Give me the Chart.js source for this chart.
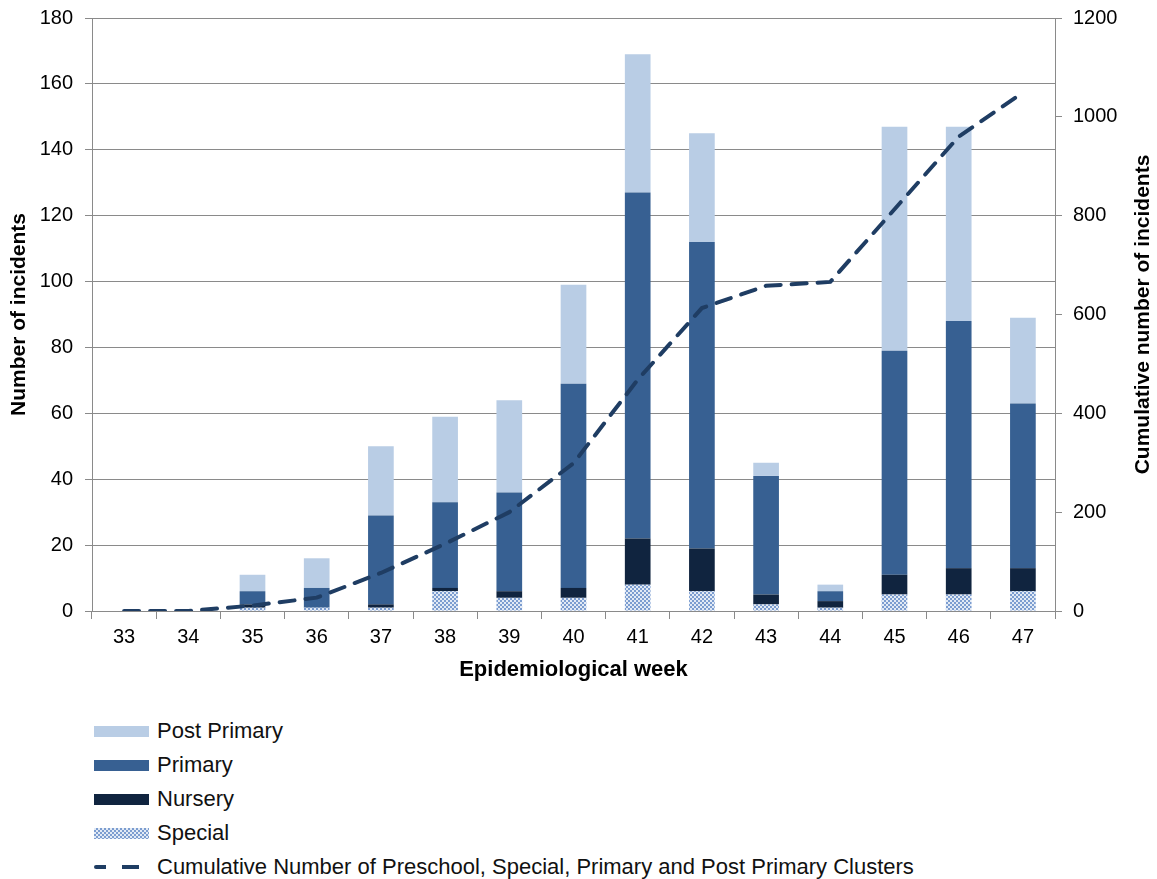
<!DOCTYPE html>
<html lang="en">
<head>
    <meta charset="UTF-8">
    <title>School incidents by epidemiological week</title>
    <script src="https://cdn.jsdelivr.net/npm/chart.js"></script>
    <style>
        body { margin: 0; background: #fff; font-family: "Liberation Sans", Arial, sans-serif; }
        .chart-container { position: relative; width: 1157px; height: 700px; }
        .legend { position: absolute; left: 0; top: 0; width: 1157px; }
        .legend-row { position: absolute; left: 94px; height: 24px; display: flex; align-items: center; font-size: 22px; color: #111; }
        .swatch { width: 55px; height: 11px; margin-right: 8px; }
        .dash { width: 55px; height: 4px; margin-right: 8px;
            background: linear-gradient(to right, #1F3D63 0 12px, transparent 12px 28px, #1F3D63 28px 45px, transparent 45px); border-radius: 2px; }
    </style>
</head>
<body>
    <div class="chart-container">
        <canvas id="chart"></canvas>
    </div>
    <div class="legend" id="legend"></div>

    <script>
        // Data
        const weeks = ['33', '34', '35', '36', '37', '38', '39', '40', '41', '42', '43', '44', '45', '46', '47'];
        const special = [0, 0, 1, 1, 1, 6, 4, 4, 8, 6, 2, 1, 5, 5, 6];
        const nursery = [0, 0, 1, 0, 1, 1, 2, 3, 14, 13, 3, 2, 6, 8, 7];
        const primary = [0, 0, 4, 6, 27, 26, 30, 62, 105, 93, 36, 3, 68, 75, 50];
        const postPrimary = [0, 0, 5, 9, 21, 26, 28, 30, 42, 33, 4, 2, 68, 59, 26];
        const cumulative = [0, 0, 11, 27, 77, 136, 200, 299, 468, 613, 658, 666, 813, 960, 1049];

        const FONT = '"Liberation Sans", Arial, sans-serif';
        const GRID = '#8a8a8a';

        // checker pattern for the "Special" series
        function makePattern() {
            const c = document.createElement('canvas');
            c.width = 4;
            c.height = 4;
            const g = c.getContext('2d');
            g.fillStyle = '#e2eaf5';
            g.fillRect(0, 0, 4, 4);
            g.fillStyle = '#7c9dd0';
            g.fillRect(0, 0, 2, 2);
            g.fillRect(2, 2, 2, 2);
            return g.createPattern(c, 'repeat');
        }
        const specialFill = makePattern();

        // right axis title reads bottom to top, like the left one
        const rightTitle = {
            id: 'rightTitle',
            afterDraw(chart) {
                const ctx = chart.ctx;
                const area = chart.chartArea;
                ctx.save();
                ctx.translate(1143, (area.top + area.bottom) / 2);
                ctx.rotate(-Math.PI / 2);
                ctx.font = 'bold 21px ' + FONT;
                ctx.fillStyle = '#000';
                ctx.textAlign = 'center';
                ctx.textBaseline = 'middle';
                ctx.fillText('Cumulative number of incidents', 0, 0);
                ctx.restore();
            }
        };

        new Chart(document.getElementById('chart'), {
            type: 'bar',
            data: {
                labels: weeks,
                datasets: [
                    { label: 'Special', data: special, backgroundColor: specialFill, yAxisID: 'y', order: 1 },
                    { label: 'Nursery', data: nursery, backgroundColor: '#10243F', yAxisID: 'y', order: 1 },
                    { label: 'Primary', data: primary, backgroundColor: '#376092', yAxisID: 'y', order: 1 },
                    { label: 'Post Primary', data: postPrimary, backgroundColor: '#B9CDE5', yAxisID: 'y', order: 1 },
                    {
                        type: 'line',
                        label: 'Cumulative Number of Preschool, Special, Primary and Post Primary Clusters',
                        data: cumulative,
                        yAxisID: 'y1',
                        borderColor: '#1F3D63',
                        borderWidth: 4,
                        borderDash: [15, 11],
                        borderCapStyle: 'round',
                        pointRadius: 0,
                        tension: 0,
                        fill: false,
                        order: 0
                    }
                ]
            },
            options: {
                responsive: true,
                maintainAspectRatio: false,
                animation: false,
                layout: { padding: { top: 18, left: 0, right: 0, bottom: 0 } },
                datasets: { bar: { barPercentage: 0.4, categoryPercentage: 1.0, borderWidth: 0 } },
                plugins: {
                    legend: { display: false },
                    tooltip: { enabled: false }
                },
                scales: {
                    x: {
                        stacked: true,
                        grid: { offset: true, drawOnChartArea: false, color: GRID, tickLength: 8 },
                        border: { color: GRID },
                        ticks: { color: '#000', font: { family: FONT, size: 20 }, padding: 6, maxRotation: 0 },
                        title: { display: true, text: 'Epidemiological week', color: '#000',
                            font: { family: FONT, size: 22, weight: 'bold' }, padding: { top: 0, bottom: 17 } },
                        afterFit(scale) { scale.height = 89; }
                    },
                    y: {
                        stacked: true,
                        position: 'left',
                        min: 0,
                        max: 180,
                        ticks: { stepSize: 20, color: '#000', font: { family: FONT, size: 20, lineHeight: 0.6 }, padding: 12 },
                        grid: { color: GRID, tickLength: 7 },
                        border: { color: GRID },
                        title: { display: true, text: 'Number of incidents', color: '#000',
                            font: { family: FONT, size: 21, weight: 'bold' }, padding: { top: 7, bottom: 0 } },
                        afterFit(scale) { scale.width = 92; }
                    },
                    y1: {
                        position: 'right',
                        min: 0,
                        max: 1200,
                        ticks: { stepSize: 200, color: '#000', font: { family: FONT, size: 20, lineHeight: 0.6 }, padding: 11,
                            callback: value => String(value) },
                        grid: { drawOnChartArea: false, color: GRID, tickLength: 7 },
                        border: { color: GRID },
                        afterFit(scale) { scale.width = 102; }
                    }
                }
            },
            plugins: [rightTitle]
        });

        // legend: one item per row, as in the reference
        const legendItems = [
            { text: 'Post Primary', fill: '#B9CDE5' },
            { text: 'Primary', fill: '#376092' },
            { text: 'Nursery', fill: '#10243F' },
            { text: 'Special', fill: 'pattern' },
            { text: 'Cumulative Number of Preschool, Special, Primary and Post Primary Clusters', fill: 'line' }
        ];
        const legend = document.getElementById('legend');
        legendItems.forEach((item, i) => {
            const row = document.createElement('div');
            row.className = 'legend-row';
            row.style.top = (731 + i * 34 - 12) + 'px';
            const sw = document.createElement('div');
            if (item.fill === 'line') {
                sw.className = 'dash';
            } else {
                sw.className = 'swatch';
                sw.style.background = item.fill === 'pattern'
                    ? 'repeating-conic-gradient(#7c9dd0 0 25%, #e2eaf5 0 50%) 0 0 / 4px 4px'
                    : item.fill;
            }
            const label = document.createElement('span');
            label.textContent = item.text;
            row.appendChild(sw);
            row.appendChild(label);
            legend.appendChild(row);
        });
    </script>
</body>
</html>
